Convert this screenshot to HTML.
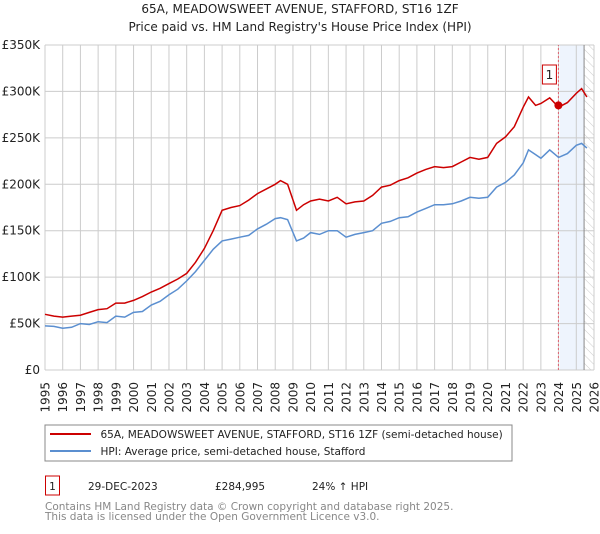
<!DOCTYPE html>
<html><head><meta charset="utf-8"><style>
body{margin:0;background:#fff;width:600px;height:530px;overflow:hidden;font-family:"DejaVu Sans","Liberation Sans",sans-serif}
svg text{font-family:"DejaVu Sans","Liberation Sans",sans-serif}
</style></head><body>
<svg id="chart" width="600" height="530" viewBox="0 0 600 530">
<defs><pattern id="hatch" width="6" height="6" patternUnits="userSpaceOnUse" patternTransform="rotate(-45)"><line x1="0" y1="0" x2="0" y2="6" stroke="#ccc" stroke-width="1"/></pattern></defs>
<text x="300" y="13" text-anchor="middle" font-size="12" fill="#222">65A, MEADOWSWEET AVENUE, STAFFORD, ST16 1ZF</text>
<text x="300" y="31" text-anchor="middle" font-size="12" fill="#222">Price paid vs. HM Land Registry's House Price Index (HPI)</text>
<g id="grid"></g><g id="series"></g><g id="axes"></g>
<rect x="45" y="425" width="467" height="36" fill="#fff" stroke="#888"/>
<line x1="50" y1="434" x2="91" y2="434" stroke="#cc0000" stroke-width="2"/>
<text x="100.5" y="438" font-size="10.5" fill="#222">65A, MEADOWSWEET AVENUE, STAFFORD, ST16 1ZF (semi-detached house)</text>
<line x1="50" y1="451" x2="91" y2="451" stroke="#5b8fd0" stroke-width="2"/>
<text x="100.5" y="455" font-size="10.5" fill="#222">HPI: Average price, semi-detached house, Stafford</text>
<rect x="45.5" y="476" width="14" height="19" fill="#fff" stroke="#cc0000"/>
<text x="52.5" y="490" text-anchor="middle" font-size="10.5" fill="#222">1</text>
<text x="88" y="490" font-size="10.5" fill="#222">29-DEC-2023</text>
<text x="215" y="490" font-size="10.5" fill="#222">£284,995</text>
<text x="312" y="490" font-size="10.5" fill="#222">24% ↑ HPI</text>
<text x="45" y="510" font-size="10.5" fill="#888">Contains HM Land Registry data © Crown copyright and database right 2025.</text>
<text x="45" y="520" font-size="10.5" fill="#888">This data is licensed under the Open Government Licence v3.0.</text>
</svg>
<script>
const years=[1995,1995.5,1996,1996.5,1997,1997.5,1998,1998.5,1999,1999.5,2000,2000.5,2001,2001.5,2002,2002.5,2003,2003.5,2004,2004.5,2005,2005.5,2006,2006.5,2007,2007.5,2008,2008.3,2008.7,2009.2,2009.6,2010,2010.5,2011,2011.5,2012,2012.5,2013,2013.5,2014,2014.5,2015,2015.5,2016,2016.5,2017,2017.5,2018,2018.5,2019,2019.5,2020,2020.5,2021,2021.5,2022,2022.3,2022.7,2023,2023.5,2024,2024.5,2025,2025.3,2025.6];
const hpiValues=[47.5,47,45,46,50,49,52,51,58,57,62,63,70,74,81,87,96,106,118,130,139,141,143,145,152,157,163,164,162,139,142,148,146,150,150,143,146,148,150,158,160,164,165,170,174,178,178,179,182,186,185,186,197,202,210,223,237,232,228,237,229,233,242,244,239];
const propValues=[60,58,57,58,59,62,65,66,72,72,75,79,84,88,93,98,104,116,131,150,172,175,177,183,190,195,200,204,200,172,178,182,184,182,186,179,181,182,188,197,199,204,207,212,216,219,218,219,224,229,227,229,244,251,262,283,294,285,287,293,283,288,298,303,294];
const yTicks=[0,50,100,150,200,250,300,350];
const yTickLabels=["£0","£50K","£100K","£150K","£200K","£250K","£300K","£350K"];
const xTicks=[1995,1996,1997,1998,1999,2000,2001,2002,2003,2004,2005,2006,2007,2008,2009,2010,2011,2012,2013,2014,2015,2016,2017,2018,2019,2020,2021,2022,2023,2024,2025,2026];
const saleYear=[2023.99];
const saleValue=[284.995];
const forecastStart=[2025.44];

const NS="http://www.w3.org/2000/svg";
const X=y=>45+(y-1995)*(594-45)/31;
const Y=v=>370-v*(325/350);
function mk(tag,attrs,parent){const e=document.createElementNS(NS,tag);for(const k in attrs)e.setAttribute(k,attrs[k]);parent.appendChild(e);return e;}
const grid=document.getElementById('grid'),series=document.getElementById('series'),axes=document.getElementById('axes');

let r=mk('rect',{x:X(saleYear[0])+1.5,y:Y(350),width:X(forecastStart[0])-X(saleYear[0])-1.5,height:Y(0)-Y(350),fill:'#eef4fd'},grid);


xTicks.forEach(t=>{const l=mk('line',{x1:X(t),x2:X(t),y1:Y(0),y2:Y(350),stroke:'#cccccc','stroke-width':1},grid);

});
yTicks.forEach((t,i)=>{const l=mk('line',{x1:45,x2:594,y1:Y(t),y2:Y(t),stroke:'#cccccc','stroke-width':1},grid);


const tx=mk('text',{x:40,y:Y(t)+4,'text-anchor':'end','font-size':'12',fill:'#222'},axes);tx.textContent=yTickLabels[i];

});
let h=mk('rect',{x:X(forecastStart[0]),y:Y(350),width:594-X(forecastStart[0]),height:Y(0)-Y(350),fill:'url(#hatch)'},grid);


let fl=mk('line',{x1:X(forecastStart[0]),x2:X(forecastStart[0]),y1:Y(0),y2:Y(350),stroke:'#888','stroke-width':1},grid);


xTicks.forEach(t=>{const tx=mk('text',{x:0,y:0,'text-anchor':'end','font-size':'12',fill:'#222',transform:`translate(${X(t)+4.5},382) rotate(-90)`},axes);tx.textContent=t;

});

let dl=mk('line',{x1:X(saleYear[0]),x2:X(saleYear[0]),y1:Y(0),y2:Y(350),stroke:'#e06070','stroke-width':1,'stroke-dasharray':'2,2'},series);


const path=(vals)=>vals.map((v,i)=>(i?'L':'M')+X(years[i]).toFixed(1)+','+Y(v).toFixed(1)).join('');
let hp=mk('path',{d:path(hpiValues),fill:'none',stroke:'#5b8fd0','stroke-width':1.5},series);


let pp=mk('path',{d:path(propValues),fill:'none',stroke:'#cc0000','stroke-width':1.5},series);


let dot=mk('circle',{cx:X(saleYear[0]),cy:Y(saleValue[0]),r:4,fill:'#cc0000'},series);


let bx=mk('rect',{x:X(saleYear[0])-16,y:65,width:14,height:19,fill:'#fff',stroke:'#cc0000'},series);


let bt=mk('text',{x:X(saleYear[0])-9,y:79,'text-anchor':'middle','font-size':'12',fill:'#222'},series);bt.textContent='1';


</script>
</body></html>
